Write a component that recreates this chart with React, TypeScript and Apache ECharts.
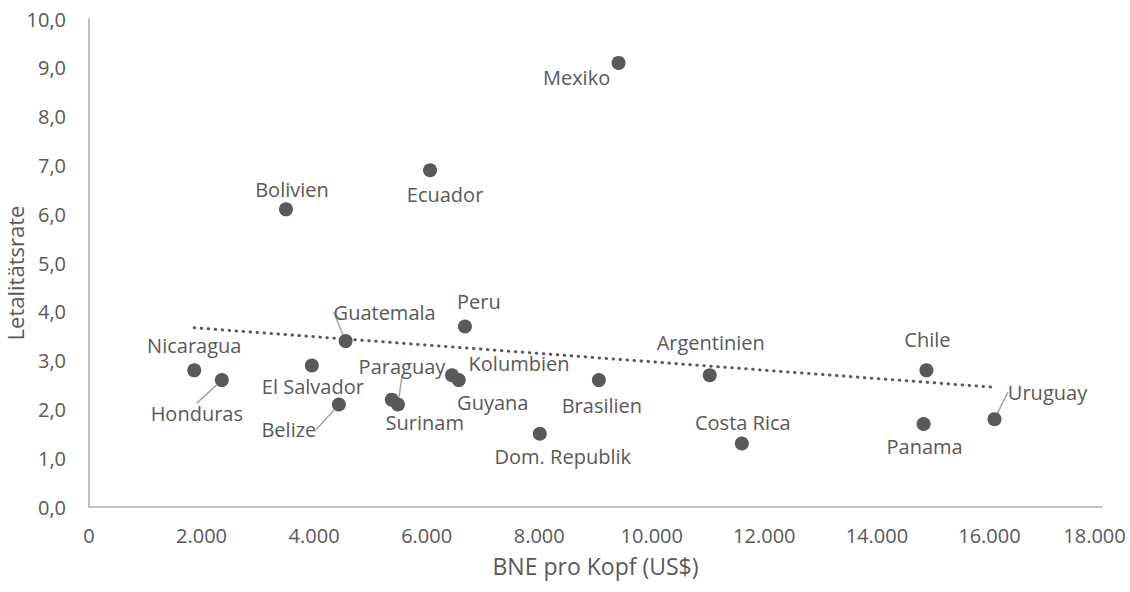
import React, { useEffect, useRef } from "react";
import * as echarts from "echarts";

// ---- Data ----
const countries = [
  "Mexiko", "Ecuador", "Bolivien", "Peru", "Guatemala", "Nicaragua", "Honduras",
  "El Salvador", "Belize", "Paraguay", "Surinam", "Kolumbien", "Guyana", "Brasilien",
  "Dom. Republik", "Argentinien", "Costa Rica", "Chile", "Panama", "Uruguay",
];
const gniPerCapita = [
  9410, 6060, 3500, 6680, 4560, 1870, 2360,
  3960, 4440, 5490, 5380, 6450, 6570, 9060,
  8010, 11030, 11600, 14880, 14830, 16090,
];
const lethalityRate = [
  9.1, 6.9, 6.1, 3.7, 3.4, 2.8, 2.6,
  2.9, 2.1, 2.1, 2.2, 2.7, 2.6, 2.6,
  1.5, 2.7, 1.3, 2.8, 1.7, 1.8,
];
const xTickLabels = ["0", "2.000", "4.000", "6.000", "8.000", "10.000", "12.000", "14.000", "16.000", "18.000"];
const yTickLabels = ["0,0", "1,0", "2,0", "3,0", "4,0", "5,0", "6,0", "7,0", "8,0", "9,0", "10,0"];
const xAxisTitle = "BNE pro Kopf (US$)";
const yAxisTitle = "Letalitätsrate";

// ---- Label placement (style only): offset of label centre from point, leader line flag ----
const labelPlacement: Record<string, [number, number, boolean]> = {
  "Mexiko": [-42, 15, false],
  "Ecuador": [15, 24, false],
  "Bolivien": [6, -20, false],
  "Peru": [14, -25, false],
  "Guatemala": [39, -29, true],
  "Nicaragua": [0, -25, false],
  "Honduras": [-25, 33, true],
  "El Salvador": [1, 21, false],
  "Belize": [-50, 25, true],
  "Paraguay": [4, -38, true],
  "Surinam": [33, 23, false],
  "Kolumbien": [67, -12, false],
  "Guyana": [34, 22, false],
  "Brasilien": [3, 25, false],
  "Dom. Republik": [23, 23, false],
  "Argentinien": [1, -33, false],
  "Costa Rica": [1, -21, false],
  "Chile": [1, -31, false],
  "Panama": [1, 22, false],
  "Uruguay": [53, -27, true],
};

const FONT = "'Open Sans', 'Noto Sans', sans-serif";
const TEXT = "#595959";

function linearFit(xs: number[], ys: number[]) {
  const n = xs.length;
  const mx = xs.reduce((a, b) => a + b, 0) / n;
  const my = ys.reduce((a, b) => a + b, 0) / n;
  let sxy = 0, sxx = 0;
  for (let i = 0; i < n; i++) {
    sxy += (xs[i] - mx) * (ys[i] - my);
    sxx += (xs[i] - mx) * (xs[i] - mx);
  }
  const slope = sxy / sxx;
  return { slope, intercept: my - slope * mx };
}

export default function App() {
  const ref = useRef<HTMLDivElement>(null);
  useEffect(() => {
    if (!ref.current) return;
    const chart = echarts.init(ref.current, undefined, { renderer: "svg" });
    const fit = linearFit(gniPerCapita, lethalityRate);
    const xMin = Math.min(...gniPerCapita);
    const xMax = Math.max(...gniPerCapita);
    const trend = [
      [xMin, fit.intercept + fit.slope * xMin],
      [xMax, fit.intercept + fit.slope * xMax],
    ];
    const points = countries.map((name, i) => ({
      name,
      value: [gniPerCapita[i], lethalityRate[i]],
      labelLine: { show: labelPlacement[name][2] },
    }));
    const lastX = xTickLabels.length - 1;
    chart.setOption({
      animation: false,
      textStyle: { fontFamily: FONT },
      grid: { left: 89, right: 28, top: 19, bottom: 85, containLabel: false, outerBoundsMode: "none" },
      graphic: [
        {
          type: "text",
          x: 15,
          y: 273,
          rotation: Math.PI / 2,
          style: {
            text: yAxisTitle,
            fill: TEXT,
            fontSize: 22,
            fontFamily: FONT,
            align: "center",
            verticalAlign: "middle",
          },
        },
      ],
      xAxis: {
        type: "value",
        min: 0,
        max: 18000,
        interval: 2000,
        name: xAxisTitle,
        nameLocation: "middle",
        nameGap: 47,
        nameTextStyle: { color: TEXT, fontSize: 23, fontFamily: FONT },
        axisLine: { show: true, lineStyle: { color: "#bfbfbf", width: 2 } },
        axisTick: { show: false },
        splitLine: { show: false },
        axisLabel: {
          color: TEXT,
          fontSize: 20,
          fontFamily: FONT,
          margin: 18,
          formatter: (v: number) => {
            const i = Math.round(v / 2000);
            const t = xTickLabels[i] ?? "";
            return i === lastX ? `{last|${t}}` : t;
          },
          rich: {
            last: { color: TEXT, fontSize: 20, fontFamily: FONT, padding: [0, 15, 0, 0] },
          },
        },
      },
      yAxis: {
        type: "value",
        min: 0,
        max: 10,
        interval: 1,
        axisLine: { show: true, lineStyle: { color: "#bfbfbf", width: 2 } },
        axisTick: { show: false },
        splitLine: { show: false },
        axisLabel: {
          color: TEXT,
          fontSize: 20,
          fontFamily: FONT,
          margin: 23,
          formatter: (v: number) => yTickLabels[Math.round(v)] ?? "",
        },
      },
      series: [
        {
          type: "line",
          data: trend,
          showSymbol: false,
          symbol: "none",
          silent: true,
          lineStyle: { color: "#595959", width: 3, type: [0.5, 6.5], cap: "round" },
          z: 1,
        },
        {
          type: "scatter",
          data: points,
          symbol: "circle",
          symbolSize: 14,
          itemStyle: { color: "#595959", opacity: 1 },
          z: 3,
          label: {
            show: true,
            position: "inside",
            formatter: (p: any) => p.name,
            color: TEXT,
            fontSize: 20,
            fontFamily: FONT,
          },
          labelLine: { show: false, lineStyle: { color: "#a6a6a6", width: 1.5 } },
          labelLayout: (p: any) => {
            const o = labelPlacement[countries[p.dataIndex]];
            return { dx: o[0], dy: o[1] };
          },
        },
      ],
    });
    return () => chart.dispose();
  }, []);
  return (
    <div
      ref={ref}
      style={{ position: "fixed", left: 0, top: 0, width: 1130, height: 592, background: "#fff" }}
    />
  );
}
